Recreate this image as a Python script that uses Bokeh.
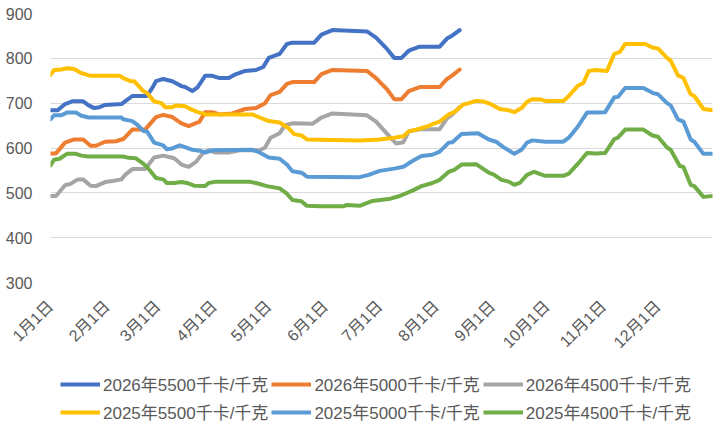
import math
import pandas as pd
from bokeh.plotting import figure
from bokeh.layouts import column
from bokeh.models import (Range1d, FixedTicker, CustomJSTickFormatter, Legend,
                          LegendItem)
from bokeh.embed import file_html
from bokeh.resources import INLINE

# ---------------- data (month-day, value) ----------------
YEAR = "2025"  # common calendar used for the x axis

s2026_5500_dates = ["01-01","01-05","01-09","01-13","01-19","01-22","01-25","01-28","01-31","02-09",
                    "02-11","02-15","02-23","02-26","02-28","03-04","03-09","03-14","03-16","03-20",
                    "03-23","03-27","03-31","04-04","04-09","04-12","04-18","04-24","04-28","05-01",
                    "05-07","05-11","05-14","05-26","05-30","06-05","06-24","06-29","07-05","07-09",
                    "07-13","07-17","07-23","08-03","08-07","08-10","08-14"]
s2026_5500 = [684,684,698,704,704,695,689,691,696,698,
              704,716,716,734,749,754,749,738,736,727,
              736,761,761,756,756,763,772,774,781,801,
              810,832,835,835,853,863,860,846,821,801,
              801,817,826,826,844,851,863]

s2026_5000_dates = ["01-01","01-04","01-09","01-14","01-19","01-23","01-26","01-31","02-06","02-10",
                    "02-15","02-22","02-28","03-04","03-09","03-14","03-18","03-24","03-27","03-31",
                    "04-04","04-11","04-18","04-24","04-29","05-02","05-07","05-11","05-14","05-26",
                    "05-30","06-05","06-24","06-29","07-05","07-09","07-13","07-17","07-23","08-03",
                    "08-07","08-10","08-14"]
s2026_5000 = [588,588,612,619,619,605,605,614,615,620,
              641,641,669,674,669,655,649,659,680,680,
              675,677,687,689,700,718,725,743,747,747,
              765,774,772,756,731,709,709,727,736,736,
              754,762,775]

s2026_4500_dates = ["01-01","01-04","01-09","01-12","01-16","01-19","01-23","01-26","01-31","02-05",
                    "02-09","02-11","02-15","02-22","02-27","03-04","03-10","03-14","03-18","03-22",
                    "03-26","03-29","04-02","04-09","04-15","04-26","04-29","05-02","05-07","05-10",
                    "05-14","05-25","05-30","06-05","06-24","06-29","07-05","07-10","07-14","07-17",
                    "07-23","08-03","08-07","08-10","08-14"]
s2026_4500 = [493,493,517,520,530,530,516,515,524,527,
              530,540,553,553,579,583,577,563,558,569,
              590,595,590,590,595,595,601,623,633,651,
              655,654,668,677,673,659,632,610,613,637,
              642,642,666,675,691]

s2025_5500_dates = ["01-01","01-03","01-07","01-10","01-14","01-18","01-20","01-23","02-08","02-10",
                    "02-14","02-16","02-21","02-23","02-27","03-03","03-05","03-09","03-11","03-16",
                    "03-20","03-23","03-27","04-22","04-26","05-01","05-07","05-12","05-15","05-19",
                    "05-22","06-05","06-20","07-01","07-09","07-14","07-17","07-23","07-27","07-30",
                    "08-03","08-08","08-11","08-16","08-19","08-23","08-27","08-31","09-05","09-09",
                    "09-13","09-17","09-20","09-23","09-28","09-30","10-10","10-13","10-18","10-21",
                    "10-24","10-28","11-03","11-07","11-10","11-13","11-24","11-28","12-01","12-06",
                    "12-08","12-12","12-15","12-19","12-21","12-26","12-31"]
s2025_5500 = [763,774,775,778,776,767,765,761,761,756,
              749,749,727,723,704,700,691,691,695,693,
              685,680,675,675,668,660,657,644,631,628,
              619,618,617,619,623,626,637,643,648,653,
              659,675,680,697,700,705,704,698,687,685,
              680,689,703,709,708,705,705,716,739,745,
              772,774,772,810,814,832,832,824,822,801,
              795,762,756,720,716,687,684]

s2025_5000_dates = ["01-01","01-03","01-07","01-10","01-15","01-18","01-22","02-09","02-10","02-15",
                    "02-18","02-21","02-23","02-27","03-04","03-06","03-09","03-13","03-16","03-20",
                    "03-24","03-27","03-31","04-22","04-26","05-01","05-07","05-11","05-14","05-19",
                    "05-22","06-20","06-25","07-01","07-09","07-14","07-19","07-24","07-30","08-03",
                    "08-08","08-10","08-15","08-24","08-30","09-03","09-07","09-13","09-17","09-20",
                    "09-23","09-30","10-10","10-13","10-18","10-23","10-28","11-02","11-07","11-09",
                    "11-13","11-23","11-28","12-01","12-06","12-08","12-12","12-15","12-19","12-21",
                    "12-26","12-31"]
s2025_5000 = [664,673,673,679,679,672,668,668,664,660,
              651,638,637,612,606,597,599,606,602,596,
              594,590,595,596,590,579,576,563,548,545,
              536,535,540,549,554,558,571,582,585,592,
              612,613,631,633,619,614,602,587,596,612,
              617,614,614,623,648,679,679,680,713,714,
              734,734,723,720,700,695,664,659,619,614,
              587,587]

s2025_4500_dates = ["01-01","01-03","01-06","01-10","01-15","01-18","01-22","02-10","02-13","02-17",
                    "02-21","02-23","02-28","03-04","03-06","03-10","03-14","03-17","03-21","03-27",
                    "03-29","04-02","04-20","04-24","04-30","05-07","05-11","05-14","05-19","05-22",
                    "05-29","06-11","06-13","06-20","06-27","07-07","07-12","07-19","07-24","07-30",
                    "08-03","08-08","08-11","08-15","08-23","08-30","09-02","09-06","09-10","09-13",
                    "09-16","09-20","09-24","09-30","10-10","10-13","10-18","10-23","10-28","11-02",
                    "11-07","11-09","11-13","11-23","11-28","12-01","12-06","12-08","12-13","12-15",
                    "12-19","12-21","12-26","12-31"]
s2025_4500 = [561,574,576,587,587,583,581,581,578,577,
              565,558,533,530,522,522,524,522,516,515,
              522,525,525,522,515,510,498,484,481,471,
              470,470,473,471,482,487,493,505,515,522,
              529,547,551,563,564,545,540,529,525,518,
              522,540,547,538,538,543,565,589,588,589,
              620,623,641,641,628,625,601,596,560,558,
              518,515,491,493]

series_names = ["2026年5500千卡/千克", "2026年5000千卡/千克", "2026年4500千卡/千克",
                "2025年5500千卡/千克", "2025年5000千卡/千克", "2025年4500千卡/千克"]
series_colors = ["#4472C4", "#ED7D31", "#A5A5A5", "#FFC000", "#5B9BD5", "#70AD47"]
series_dates = [s2026_5500_dates, s2026_5000_dates, s2026_4500_dates,
                s2025_5500_dates, s2025_5000_dates, s2025_4500_dates]
series_values = [s2026_5500, s2026_5000, s2026_4500, s2025_5500, s2025_5000, s2025_4500]

tick_month_starts = ["01-01","02-01","03-01","04-01","05-01","06-01",
                     "07-01","08-01","09-01","10-01","11-01","12-01"]
tick_labels = ["1月1日","2月1日","3月1日","4月1日","5月1日","6月1日",
               "7月1日","8月1日","9月1日","10月1日","11月1日","12月1日"]
y_ticks = [300, 400, 500, 600, 700, 800, 900]

# ---------------- figure ----------------
def to_dt(md_list):
    return pd.to_datetime([f"{YEAR}-{md}" for md in md_list])

FONT = "Liberation Sans, Noto Sans CJK SC"
W = 713
H_MAIN = 360
H_LEGEND = 66
x_start = pd.Timestamp(f"{YEAR}-01-01")
x_end = pd.Timestamp(f"{YEAR}-12-31")

p = figure(width=W, height=H_MAIN, x_axis_type="datetime",
           output_backend="svg", toolbar_location=None,
           x_range=Range1d(x_start, x_end), y_range=Range1d(300, 900),
           min_border_left=50, min_border_right=1, min_border_top=13,
           min_border_bottom=70)
p.outline_line_color = None
p.background_fill_color = "white"
p.border_fill_color = "white"

renderers = []
for name, color, d, v in zip(series_names, series_colors, series_dates, series_values):
    renderers.append(p.line(to_dt(d), v, line_color=color, line_width=4,
                            line_join="round", line_cap="round"))

tick_ms = [int(t.value // 10**6) for t in to_dt(tick_month_starts)]
p.xaxis.ticker = FixedTicker(ticks=tick_ms)
p.xaxis.formatter = CustomJSTickFormatter(args=dict(labels=tick_labels), code="""
    const d = new Date(tick);
    return labels[d.getUTCMonth()];
""")
p.xaxis.major_label_orientation = math.pi / 4
p.yaxis.ticker = FixedTicker(ticks=y_ticks)

for ax in (p.xaxis[0], p.yaxis[0]):
    ax.axis_line_color = None
    ax.major_tick_line_color = None
    ax.minor_tick_line_color = None
    ax.major_tick_out = 0
    ax.major_tick_in = 0
    ax.major_label_text_color = "#595959"
    ax.major_label_text_font = FONT
p.xaxis.major_label_text_font_size = "16px"
p.yaxis.major_label_text_font_size = "16px"
p.yaxis.major_label_standoff = 18
p.xaxis.major_label_standoff = 21

p.xgrid.grid_line_color = None
p.ygrid.grid_line_color = "#D9D9D9"
p.ygrid.grid_line_width = 1

# ---------------- legend strip (same line styles as the series) ----------------
pl = figure(width=W, height=H_LEGEND, output_backend="svg", toolbar_location=None,
            x_range=Range1d(0, 1), y_range=Range1d(0, 1),
            x_axis_location=None, y_axis_location=None,
            min_border_left=0, min_border_right=0, min_border_top=0, min_border_bottom=0)
pl.outline_line_color = None
pl.background_fill_color = "white"
pl.border_fill_color = "white"
for g in pl.grid:
    g.visible = False

legend_items = []
for name, color in zip(series_names, series_colors):
    r = pl.line(x=[-2, -1], y=[-2, -1], line_color=color, line_width=4)
    legend_items.append(LegendItem(label=name, renderers=[r]))


def make_legend(items, loc):
    lg = Legend(items=items, location=loc, orientation="horizontal")
    lg.label_text_font = FONT
    lg.label_text_font_size = "17px"
    lg.label_text_color = "#595959"
    lg.glyph_width = 40
    lg.glyph_height = 16
    lg.label_standoff = 3
    lg.spacing = 3
    lg.padding = 0
    lg.margin = 0
    lg.label_height = 22
    lg.border_line_color = None
    lg.background_fill_color = None
    return lg

pl.add_layout(make_legend(legend_items[:3], (10, 30)), "center")
pl.add_layout(make_legend(legend_items[3:], (10, 2)), "center")

layout = column(p, pl, spacing=0)

with open("out.html", "w") as f:
    f.write(file_html(layout, INLINE))
